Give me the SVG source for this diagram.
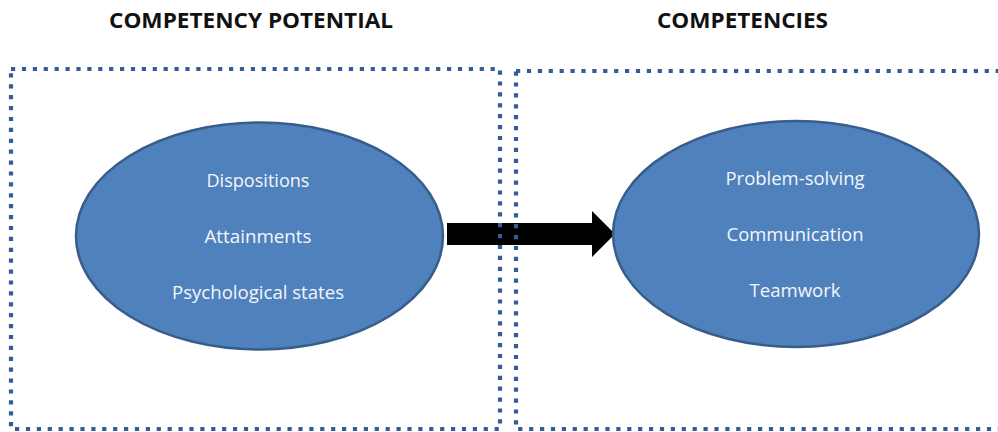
<svg xmlns="http://www.w3.org/2000/svg" width="998" height="432" viewBox="0 0 998 432">
  <style>
    .frame { fill: none; stroke: #345C96; stroke-width: 4.2; stroke-dasharray: 4.2 6.7; }
    .node ellipse { fill: #4F81BD; stroke: #385D8A; stroke-width: 2.5; }
    .lbl { font-family: "Open Sans", "Liberation Sans", sans-serif; font-size: 18px; fill: #F4F6FA; text-anchor: middle; }
    .head { font-family: "Open Sans", "Liberation Sans", sans-serif; font-size: 21px; font-weight: bold; fill: #111111; }
  </style>
  <rect width="998" height="432" fill="#FFFFFF"/>
  <g id="headings">
    <text class="head" x="109" y="28" textLength="284" lengthAdjust="spacingAndGlyphs">COMPETENCY POTENTIAL</text>
    <text class="head" x="657" y="28" textLength="171" lengthAdjust="spacingAndGlyphs">COMPETENCIES</text>
  </g>
  <g id="connectors">
    <polygon points="447,223 592,223 592,211 615,234 592,257 592,245 447,245" fill="#000000"/>
  </g>
  <g id="frames">
    <rect class="frame" x="11" y="69" width="489" height="360"/>
    <rect class="frame" x="516" y="71" width="500" height="358"/>
  </g>
  <g id="competency-potential" class="node">
    <ellipse cx="259.5" cy="236" rx="183.5" ry="113.5"/>
    <text class="lbl" x="258" y="187" textLength="103" lengthAdjust="spacingAndGlyphs">Dispositions</text>
    <text class="lbl" x="258" y="243" textLength="107" lengthAdjust="spacingAndGlyphs">Attainments</text>
    <text class="lbl" x="258" y="299" textLength="172" lengthAdjust="spacingAndGlyphs">Psychological states</text>
  </g>
  <g id="competencies" class="node">
    <ellipse cx="796" cy="234" rx="183" ry="113"/>
    <text class="lbl" x="795" y="185" textLength="139" lengthAdjust="spacingAndGlyphs">Problem-solving</text>
    <text class="lbl" x="795" y="241" textLength="137" lengthAdjust="spacingAndGlyphs">Communication</text>
    <text class="lbl" x="795" y="297" textLength="91" lengthAdjust="spacingAndGlyphs">Teamwork</text>
  </g>
</svg>
